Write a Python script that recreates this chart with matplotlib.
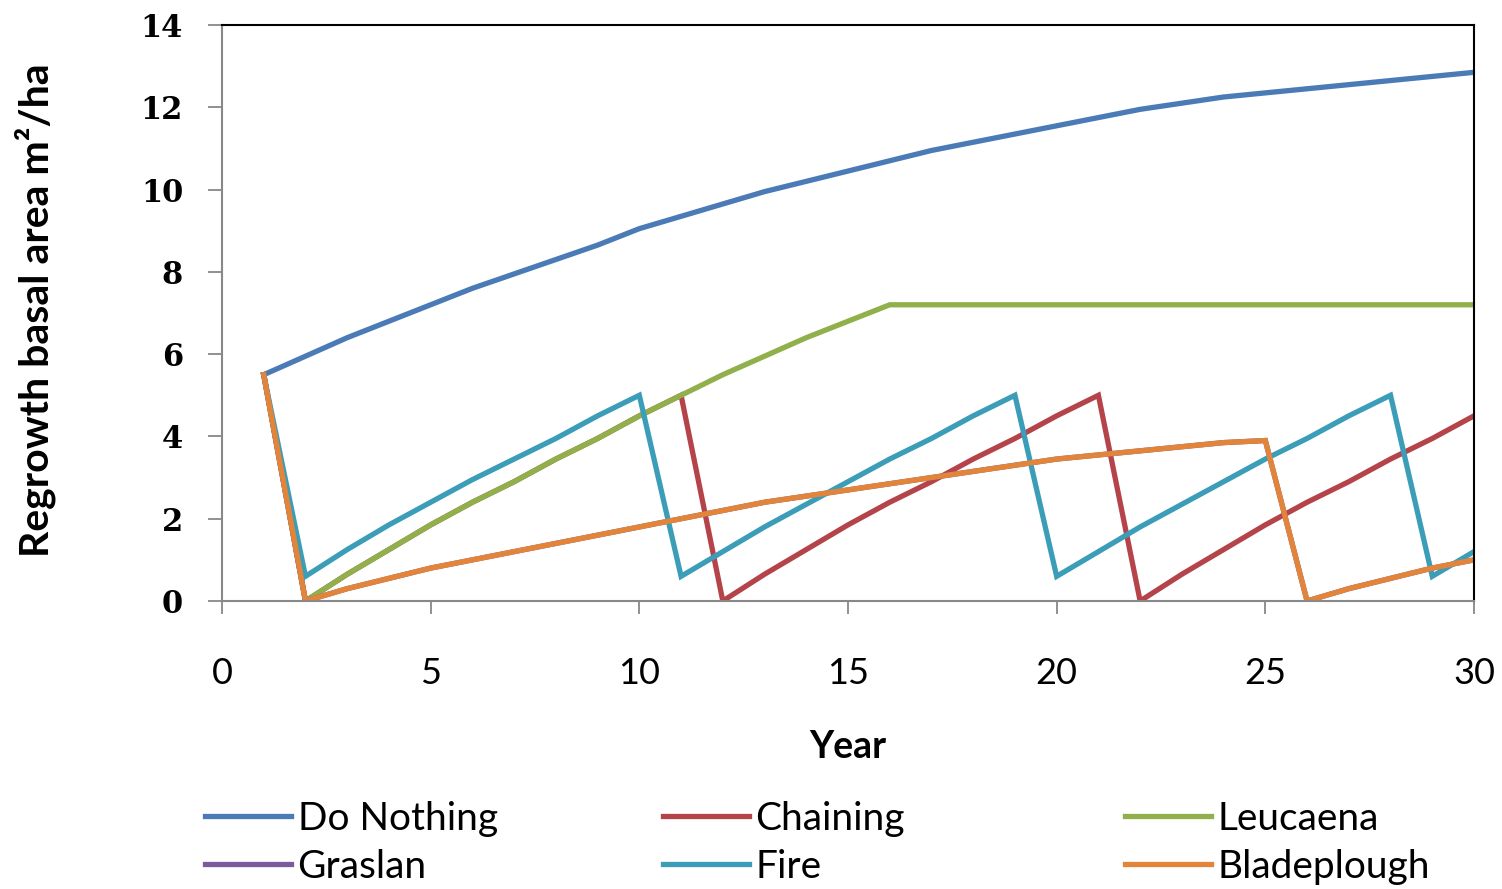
import numpy as np
import matplotlib
matplotlib.use("Agg")
import matplotlib.pyplot as plt

# data (basal area m2/ha per year)
years = list(range(1, 31))

do_nothing = [5.5, 5.95, 6.4, 6.8, 7.2, 7.6, 7.95, 8.3, 8.65, 9.05,
              9.35, 9.65, 9.95, 10.2, 10.45, 10.7, 10.95, 11.15, 11.35, 11.55,
              11.75, 11.95, 12.1, 12.25, 12.35, 12.45, 12.55, 12.65, 12.75, 12.85]

chaining = [5.5, 0.0, 0.65, 1.25, 1.85, 2.4, 2.9, 3.45, 3.95, 4.5,
            5.0, 0.0, 0.65, 1.25, 1.85, 2.4, 2.9, 3.45, 3.95, 4.5,
            5.0, 0.0, 0.65, 1.25, 1.85, 2.4, 2.9, 3.45, 3.95, 4.5]

leucaena = [5.5, 0.0, 0.65, 1.25, 1.85, 2.4, 2.9, 3.45, 3.95, 4.5,
            5.0, 5.5, 5.95, 6.4, 6.8, 7.2, 7.2, 7.2, 7.2, 7.2,
            7.2, 7.2, 7.2, 7.2, 7.2, 7.2, 7.2, 7.2, 7.2, 7.2]

bladeplough = [5.5, 0.0, 0.3, 0.55, 0.8, 1.0, 1.2, 1.4, 1.6, 1.8,
               2.0, 2.2, 2.4, 2.55, 2.7, 2.85, 3.0, 3.15, 3.3, 3.45,
               3.55, 3.65, 3.75, 3.85, 3.9, 0.0, 0.3, 0.55, 0.8, 1.0]

# graslan is hidden under bladeplough in the original
graslan = list(bladeplough)

fire = [5.5, 0.6, 1.25, 1.85, 2.4, 2.95, 3.45, 3.95, 4.5, 5.0,
        0.6, 1.2, 1.8, 2.35, 2.9, 3.45, 3.95, 4.5, 5.0, 0.6,
        1.2, 1.8, 2.35, 2.9, 3.45, 3.95, 4.5, 5.0, 0.6, 1.2]

names = ["Do Nothing", "Chaining", "Leucaena", "Graslan", "Fire", "Bladeplough"]
series = [do_nothing, chaining, leucaena, graslan, fire, bladeplough]
colors = ["#4A7BB7", "#B4434A", "#8FB04A", "#7A5C9C", "#3C9DB8", "#E2853A"]

fig = plt.figure(figsize=(15.02, 8.89), dpi=100)
ax = fig.add_axes([222/1502, 1-601/889, (1474-222)/1502, (601-25)/889])

lines = []
for name, vals, c in zip(names, series, colors):
    ln, = ax.plot(years, vals, color=c, lw=3.8, label=name, solid_joinstyle="miter")
    lines.append(ln)

ax.set_xlim(0, 30)
ax.set_ylim(0, 14)
ax.set_xticks(range(0, 31, 5))
ax.set_yticks(range(0, 15, 2))

gray = "#888888"
for s in ["left", "bottom"]:
    ax.spines[s].set_color(gray)
    ax.spines[s].set_linewidth(1.5)
for s in ["top", "right"]:
    ax.spines[s].set_color("black")
    ax.spines[s].set_linewidth(1.5)

ax.tick_params(axis="y", direction="out", length=10, width=1.3, color=gray, pad=18)
ax.tick_params(axis="x", direction="out", length=9, width=1.3, color=gray, pad=31)
for t in ax.get_yticklabels():
    t.set_fontfamily("DejaVu Serif")
    t.set_fontweight("bold")
    t.set_fontsize(22)
for t in ax.get_xticklabels():
    t.set_fontfamily("Lato")
    t.set_fontsize(26)

ax.set_ylabel("Regrowth basal area m²/ha", fontfamily="Lato", fontweight="bold",
              fontsize=29.5, va="center")
ax.yaxis.set_label_coords((35-222)/1252, 0.505)
ax.set_xlabel("Year", fontfamily="Lato", fontweight="bold", fontsize=27, va="top")
ax.xaxis.set_label_coords(0.5, (601-730)/576)

# legend: three columns of two rows
cols = [(0, 3), (1, 4), (2, 5)]
xs = [205, 663, 1125]
for (i, j), x0 in zip(cols, xs):
    leg = fig.legend([lines[i], lines[j]], [names[i], names[j]],
                     loc="upper left", bbox_to_anchor=(x0/1502, 1-801/889),
                     frameon=False, handlelength=2.2, handletextpad=0.18,
                     labelspacing=0.3, borderaxespad=0, borderpad=0,
                     prop={"family": "Lato", "size": 28})

fig.savefig("out.png", dpi=100)
